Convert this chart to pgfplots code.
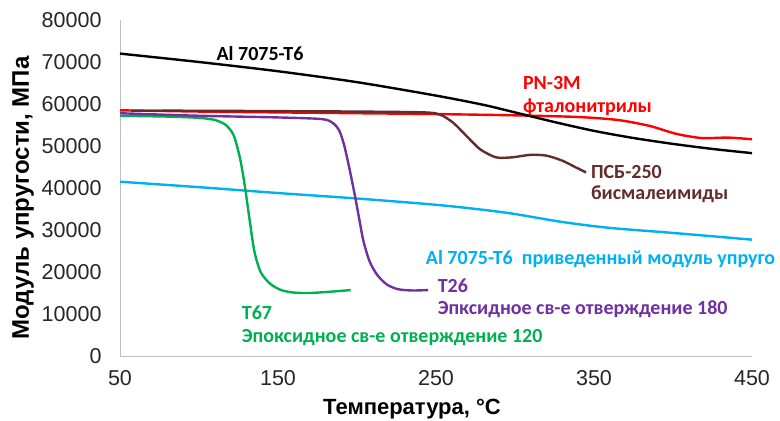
\documentclass[border=0pt]{standalone}
\usepackage{fontspec}
\setmainfont{Liberation Sans}
\newfontfamily\calib{Carlito}
\usepackage{pgfplots}
\pgfplotsset{compat=1.18}

\definecolor{cred}{HTML}{FF0000}
\definecolor{cbrown}{HTML}{632C2C}
\definecolor{cgreen}{HTML}{00B050}
\definecolor{cpurple}{HTML}{7030A0}
\definecolor{ccyan}{HTML}{00B0F0}
\definecolor{axgray}{HTML}{BFBFBF}

\begin{document}
\begin{tikzpicture}
\begin{axis}[
  name=ax,
  at={(0,0)}, anchor=south west,
  scale only axis,
  width=632bp, height=336bp,
  xmin=50, xmax=450, ymin=0, ymax=80000,
  xtick={50,150,250,350,450},
  ytick={0,10000,...,80000},
  axis x line*=bottom, axis y line*=left,
  axis line style={axgray, line width=0.8bp},
  major tick length=0pt,
  /pgf/number format/assume math mode=true,
  /pgf/number format/1000 sep={},
  scaled y ticks=false,
  tick label style={font=\fontsize{21.5bp}{25bp}\selectfont, color=black!85},
  yticklabel style={xshift=-15bp},
  xticklabel style={yshift=-11bp},
  every axis plot/.append style={line width=2.4bp, smooth, tension=0.45},
  clip=false,
]
% Al 7075-T6 reduced modulus
\addplot[ccyan] coordinates {(50,41500) (100,40200) (150,38800) (200,37500) (250,36000) (280,34800) (300,33800) (330,31900) (360,30500) (400,29300) (450,27700)};
% T67
\addplot[cgreen] coordinates {(50,57200) (80,57000) (100,56700) (110,56200) (117,55000) (122,52500) (126,47000) (129,40500) (132,32500) (135,25000) (139,20000) (145,17200) (152,15700) (160,15100) (170,15000) (183,15300) (196,15700)};
% T26
\addplot[cpurple] coordinates {(50,57800) (100,57200) (150,56800) (178,56400) (185,55400) (189,53500) (192,50000) (195,45000) (198,39500) (201,33500) (204,27500) (208,22500) (213,19200) (219,17000) (226,15900) (235,15600) (245,15700)};
% PN-3M
\addplot[cred] coordinates {(50,58500) (100,58200) (150,58000) (200,57800) (250,57600) (300,57300) (340,56900) (365,56200) (385,54800) (402,52900) (418,51900) (435,52000) (450,51600)};
% PSB-250
\addplot[cbrown] coordinates {(57,58400) (100,58400) (150,58300) (200,58200) (243,58000) (253,57400) (261,55500) (269,52500) (278,49200) (288,47300) (298,47300) (310,47900) (320,47700) (330,46500) (338,45000) (345,43700)};
% Al 7075-T6
\addplot[black] coordinates {(50,72000) (100,70000) (150,67800) (200,65200) (250,62000) (280,59800) (300,58000) (325,55700) (350,53600) (375,51900) (400,50500) (425,49300) (450,48300)};

\begin{scope}[every node/.style={anchor=west, inner sep=0pt, font=\calib\bfseries\fontsize{20bp}{23bp}\selectfont}]
\node[black] at (axis cs:111,71900) {Al 7075-T6};
\node[cred] at (axis cs:305,65000) {PN-3M};
\node[cred] at (axis cs:305,59300) {фталонитрилы};
\node[cbrown] at (axis cs:348,43800) {ПСБ-250};
\node[cbrown] at (axis cs:348,38600) {бисмалеимиды};
\node[ccyan] at (axis cs:243.5,23100) {Al 7075-T6\ \ приведенный модуль упруго};
\node[cpurple] at (axis cs:251,16700) {T26};
\node[cpurple] at (axis cs:251,11200) {Эпксидное св-е отверждение 180};
\node[cgreen] at (axis cs:127,10200) {T67};
\node[cgreen] at (axis cs:127,4500) {Эпоксидное св-е отверждение 120};
\end{scope}
\end{axis}
\node[font=\bfseries\fontsize{24bp}{28bp}\selectfont, rotate=90] at (-97bp,158bp) {Модуль упругости, МПа};
\node[font=\bfseries\fontsize{22bp}{26bp}\selectfont] at (292bp,-53bp) {Температура, °С};
\pgfresetboundingbox
\useasboundingbox (-120bp,-65bp) rectangle (660bp,356bp);
\end{tikzpicture}
\end{document}
